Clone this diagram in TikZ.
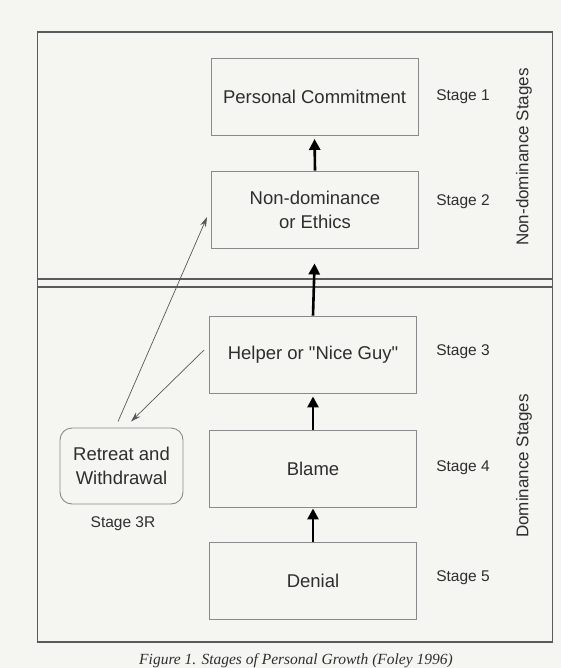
\documentclass[tikz,border=0pt]{standalone}
\usepackage{fontspec}
\setmainfont{Liberation Sans}[Ligatures=TeXOff]
\newfontfamily\capfont{Liberation Serif}
\usetikzlibrary{arrows.meta}
\definecolor{paper}{HTML}{F5F5F2}
\definecolor{ink}{HTML}{2E2E2E}
\definecolor{boxline}{HTML}{8A8A8A}
\definecolor{frameline}{HTML}{5A5A5A}
\begin{document}
\begin{tikzpicture}[x=1pt,y=-1pt,
  stagebox/.style={draw=boxline, line width=0.9pt, minimum width=207pt, minimum height=77pt,
    font=\fontsize{18.5}{22}\selectfont, text=ink, align=center, inner sep=0pt},
  retreatbox/.style={stagebox, minimum width=123pt, minimum height=76pt, rounded corners=12pt},
  stagelabel/.style={font=\fontsize{15.5}{18}\selectfont, text=ink},
  sidelabel/.style={font=\fontsize{17}{20}\selectfont, text=ink, rotate=90},
  uparrow/.style={draw=black, line width=2.6pt, -{Triangle[length=11pt,width=11pt]}},
  thinarrow/.style={draw=ink!80, line width=0.7pt, -{Stealth[length=10pt,width=6pt]}},
  frame/.style={draw=frameline, line width=1.6pt}]
\fill[paper] (0,0) rectangle (561,668);
\useasboundingbox (0,0) rectangle (561,668);
% outer frame and divider
\draw[frame] (37.5,32) rectangle (552.5,642);
\draw[frameline, line width=1.1pt] (37.5,279) -- (552.5,279);
\draw[frameline, line width=1.1pt] (37.5,287) -- (552.5,287);
% boxes
\node[stagebox] (b1) at (314.5,97) {Personal Commitment};
\node[stagebox] (b2) at (315,209.5) {Non-dominance\\[2pt]or Ethics};
\node[stagebox] (b3) at (313,354.5) {Helper or "Nice Guy"};
\node[stagebox] (b4) at (313,468.5) {Blame};
\node[stagebox] (b5) at (313,580.5) {Denial};
\node[retreatbox] (r) at (121.5,466) {Retreat and\\[2pt]Withdrawal};
% stage labels
\node[stagelabel] (s1) at (463,97) {Stage 1};
\node[stagelabel] (s2) at (463,202) {Stage 2};
\node[stagelabel] (s3) at (463,352) {Stage 3};
\node[stagelabel] (s4) at (463,468) {Stage 4};
\node[stagelabel] (s5) at (463,578) {Stage 5};
\node[stagelabel] (s3r) at (123,524) {Stage 3R};
% side labels
\node[sidelabel] (nd) at (524,157) {Non-dominance Stages};
\node[sidelabel] (ds) at (524,466) {Dominance Stages};
% upward arrows
\draw[uparrow, shorten >=3pt] (b2.north) -- (b1.south);
\draw[uparrow, shorten >=15pt] (b3.north) -- (b2.south);
\draw[uparrow, shorten >=3pt] (b4.north) -- (b3.south);
\draw[uparrow, shorten >=1pt] (b5.north) -- (b4.south);
% retreat arrows
\draw[thinarrow] ([xshift=-3.5pt,yshift=6pt]r.north) -- ([xshift=-4pt,yshift=-7.5pt]b2.west);
\draw[thinarrow] ([xshift=-5pt,yshift=4.5pt]b3.west) -- ([xshift=9.5pt,yshift=6pt]r.north);
% caption
\node[font=\capfont\itshape\fontsize{15.5}{18}\selectfont, text=ink] (cap) at (296,661) {Figure 1. Stages of Personal Growth (Foley 1996)};
\end{tikzpicture}
\end{document}
